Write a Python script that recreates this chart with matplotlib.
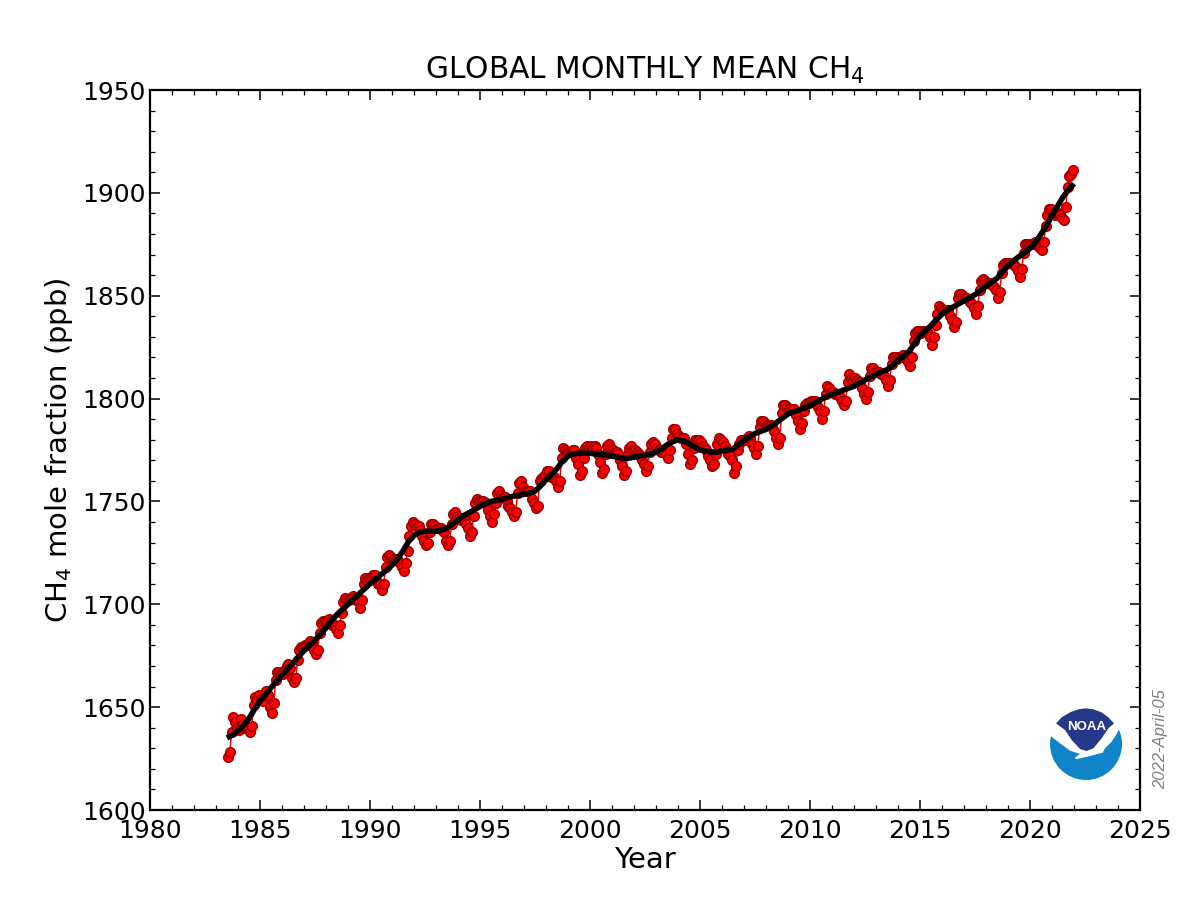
import numpy as np
import matplotlib
matplotlib.use("Agg")
import matplotlib.pyplot as plt
from matplotlib.patches import Ellipse, Polygon
from matplotlib.ticker import MultipleLocator

# monthly global means, one row per calendar year, first row starts in July
ch4_1980s = [
    1626, 1628, 1638, 1645, 1643, 1640,
    1639, 1644, 1642, 1640, 1640, 1640, 1638, 1641, 1651, 1655, 1654, 1656,
    1654, 1653, 1656, 1658, 1656, 1650, 1647, 1652, 1663, 1667, 1667, 1666,
    1666, 1668, 1670, 1671, 1669, 1664, 1662, 1664, 1673, 1678, 1679, 1679,
    1680, 1680, 1681, 1682, 1681, 1678, 1676, 1678, 1686, 1691, 1692, 1692,
    1692, 1693, 1692, 1690, 1690, 1688, 1686, 1690, 1696, 1701, 1703, 1702,
    1702, 1703, 1704, 1703, 1702, 1702, 1698, 1702, 1710, 1713, 1712, 1713,
]
ch4_1990s = [
    1713, 1714, 1714, 1712, 1710, 1710, 1707, 1710, 1718, 1723, 1724, 1723,
    1722, 1722, 1722, 1721, 1720, 1718, 1716, 1720, 1726, 1733, 1738, 1740,
    1739, 1738, 1738, 1736, 1733, 1731, 1729, 1730, 1735, 1739, 1739, 1738,
    1737, 1737, 1737, 1736, 1735, 1731, 1729, 1731, 1739, 1744, 1745, 1743,
    1742, 1741, 1742, 1741, 1739, 1737, 1733, 1735, 1743, 1749, 1751, 1750,
    1750, 1750, 1749, 1749, 1746, 1743, 1740, 1744, 1749, 1754, 1755, 1753,
    1752, 1752, 1750, 1748, 1747, 1745, 1743, 1745, 1754, 1759, 1760, 1757,
    1755, 1755, 1755, 1755, 1751, 1749, 1747, 1748, 1760, 1761, 1762, 1763,
    1765, 1765, 1762, 1763, 1762, 1760, 1757, 1760, 1771, 1776, 1775, 1774,
    1774, 1774, 1775, 1775, 1771, 1768, 1763, 1765, 1771, 1776, 1777, 1776,
]
ch4_2000s = [
    1777, 1776, 1777, 1776, 1773, 1769, 1764, 1766, 1773, 1777, 1778, 1776,
    1775, 1774, 1774, 1773, 1770, 1767, 1763, 1765, 1773, 1776, 1777, 1775,
    1775, 1774, 1773, 1772, 1770, 1768, 1765, 1767, 1774, 1778, 1779, 1778,
    1776, 1775, 1774, 1774, 1774, 1773, 1771, 1775, 1781, 1785, 1785, 1783,
    1782, 1781, 1781, 1781, 1778, 1773, 1768, 1770, 1776, 1780, 1780, 1780,
    1779, 1777, 1776, 1775, 1772, 1770, 1767, 1768, 1773, 1778, 1781, 1780,
    1779, 1777, 1775, 1773, 1772, 1770, 1764, 1767, 1775, 1778, 1780, 1780,
    1780, 1781, 1782, 1781, 1778, 1776, 1773, 1777, 1786, 1789, 1789, 1788,
    1787, 1787, 1787, 1786, 1784, 1781, 1778, 1781, 1793, 1797, 1797, 1796,
    1795, 1795, 1795, 1795, 1792, 1789, 1785, 1788, 1794, 1797, 1798, 1798,
]
ch4_2010s = [
    1799, 1799, 1799, 1798, 1796, 1794, 1790, 1794, 1802, 1806, 1805, 1803,
    1803, 1802, 1802, 1802, 1801, 1799, 1797, 1799, 1808, 1812, 1810, 1809,
    1810, 1809, 1808, 1808, 1805, 1802, 1800, 1803, 1811, 1815, 1815, 1813,
    1813, 1813, 1812, 1812, 1811, 1809, 1806, 1809, 1817, 1820, 1820, 1819,
    1820, 1820, 1821, 1821, 1820, 1818, 1816, 1820, 1828, 1832, 1833, 1833,
    1832, 1833, 1833, 1833, 1832, 1830, 1826, 1830, 1836, 1841, 1845, 1844,
    1843, 1843, 1843, 1843, 1840, 1838, 1835, 1837, 1849, 1851, 1851, 1850,
    1849, 1849, 1848, 1847, 1846, 1844, 1841, 1845, 1853, 1857, 1858, 1857,
    1856, 1856, 1856, 1855, 1854, 1853, 1849, 1852, 1861, 1865, 1866, 1866,
    1866, 1866, 1866, 1865, 1864, 1862, 1859, 1863, 1871, 1875, 1875, 1875,
]
ch4_2020s = [
    1875, 1875, 1876, 1875, 1874, 1873, 1872, 1876, 1884, 1889, 1892, 1892,
    1890, 1889, 1890, 1890, 1889, 1888, 1887, 1893, 1903, 1908, 1909, 1911,
]

# smoothed trend, every quarter from 1983.5 to 2022.0
trend_start = 1983.5
trend = [
    1635, 1636.5,
    1638.5, 1641, 1644.5, 1649,
    1653, 1656, 1659.5, 1662.5,
    1665.5, 1668.5, 1671.5, 1674.5,
    1677.5, 1680, 1682.5, 1685.5,
    1688.5, 1692, 1695, 1697.5,
    1700, 1702.5, 1705, 1707.5,
    1710, 1712, 1714.5, 1716.5,
    1719, 1722, 1726, 1730.5,
    1733.5, 1735, 1735.5, 1735.5,
    1735.5, 1736, 1737, 1739,
    1741, 1743, 1744.5, 1746,
    1747.5, 1749, 1750, 1750.5,
    1751, 1752, 1752.5, 1753,
    1753.5, 1754, 1755, 1757.5,
    1760.5, 1763, 1766, 1769.5,
    1772, 1773, 1773.5, 1773.5,
    1773.5, 1773, 1773, 1772.5,
    1772, 1771.5, 1771, 1771,
    1771.5, 1772, 1772.5, 1773,
    1774, 1775.5, 1777.5, 1779,
    1780, 1779.5, 1778, 1776.5,
    1775, 1774.5, 1774, 1774,
    1774.5, 1775, 1775.5, 1777.5,
    1779.5, 1781.5, 1783, 1784,
    1785, 1786.5, 1788.5, 1790.5,
    1792.5, 1793.5, 1794.5, 1795.5,
    1796.5, 1798, 1799.5, 1801,
    1802, 1803, 1804, 1805,
    1806, 1807.5, 1809, 1810.5,
    1811.5, 1813, 1814, 1816,
    1818.5, 1820.5, 1823, 1826.5,
    1830.5, 1833, 1835.5, 1838.5,
    1841, 1843, 1844.5, 1846,
    1847.5, 1849, 1850.5, 1852.5,
    1854.5, 1856.5, 1858.5, 1861.5,
    1864.5, 1867, 1869, 1871,
    1873, 1876, 1880, 1884,
    1889, 1893.5, 1898, 1901.5,
    1904.5,
]

ch4 = np.array(ch4_1980s + ch4_1990s + ch4_2000s + ch4_2010s + ch4_2020s)
months = 1983 + (6 + np.arange(len(ch4)) + 0.5) / 12
trend_years = trend_start + 0.25 * np.arange(len(trend))

fig, ax = plt.subplots(figsize=(12, 9), dpi=100)
fig.subplots_adjust(left=0.125, right=0.95, bottom=0.1, top=0.9)

ax.plot(months, ch4, "-o", color="red", lw=1.1, ms=7.0,
        mfc="#ff0000", mec="#9a0000", mew=1.0)
ax.plot(trend_years, trend, "-", color="black", lw=4.0, solid_capstyle="butt")

ax.set_xlim(1980, 2025)
ax.set_ylim(1600, 1950)
ax.xaxis.set_major_locator(MultipleLocator(5))
ax.xaxis.set_minor_locator(MultipleLocator(1))
ax.yaxis.set_major_locator(MultipleLocator(50))
ax.yaxis.set_minor_locator(MultipleLocator(10))
ax.tick_params(which="major", direction="in", length=7, width=1.1,
               top=True, right=True, labelsize=18)
ax.tick_params(which="minor", direction="in", length=3.5, width=0.9,
               top=True, right=True)
ax.tick_params(axis="y", which="major", pad=3)
ax.tick_params(axis="x", which="major", pad=6.5)
for s in ax.spines.values():
    s.set_linewidth(1.6)

ax.set_title("GLOBAL MONTHLY MEAN CH$_4$", fontsize=21.4, pad=8)
ax.set_xlabel("Year", fontsize=21, labelpad=2)
ax.set_ylabel("CH$_4$ mole fraction (ppb)", fontsize=21, labelpad=5)


# NOAA logo, drawn in pixel positions of the figure
def logo_xy(pts):
    return [((1030 + x / 3) / 1200, 1 - (680 + y / 3) / 900) for x, y in pts]


fig.add_artist(Ellipse((1086 / 1200, 1 - 744 / 900), 72 / 1200, 72 / 900,
                       fc="#0f84c8", ec="none", transform=fig.transFigure, zorder=5))
white = [(45, 50), (290, 50), (290, 140), (268, 146), (258, 165), (245, 185), (225, 205),
         (218, 218), (180, 228), (138, 238), (135, 232), (150, 222), (120, 212),
         (90, 190), (58, 165), (45, 160)]
fig.add_artist(Polygon(logo_xy(white), closed=True, fc="white", ec="none",
                       transform=fig.transFigure, zorder=6))
navy = [(78, 130), (95, 112), (120, 97), (145, 88), (168, 85), (190, 88), (215, 97),
        (235, 112), (252, 130), (235, 145), (215, 175), (190, 205), (170, 213),
        (150, 207), (125, 180), (105, 150)]
fig.add_artist(Polygon(logo_xy(navy), closed=True, fc="#25388a", ec="none",
                       transform=fig.transFigure, zorder=7))
fig.text(1086.5 / 1200, 1 - 727.5 / 900, "NOAA", color="white", fontsize=9.5, fontweight="bold",
         family="Liberation Sans", ha="center", va="center", zorder=8)

fig.text(1160.5 / 1200, 1 - 739 / 900, "2022-April-05", rotation=90, color="#808080",
         family="Liberation Sans", style="italic", fontsize=12, ha="center", va="center")

plt.savefig("out.png", dpi=100)
